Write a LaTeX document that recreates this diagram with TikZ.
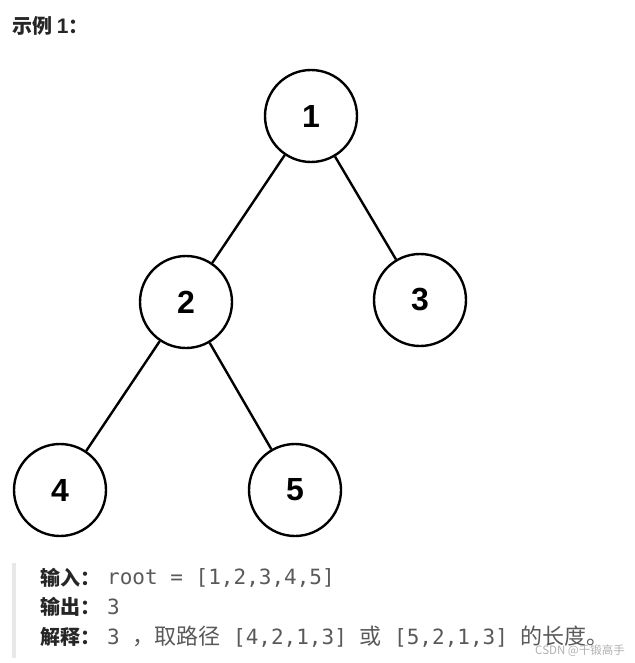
\documentclass[tikz,border=0pt]{standalone}
\usepackage{fontspec}
\setmainfont{Liberation Sans}
\newfontfamily\cjk{Noto Sans CJK SC}
\newfontfamily\mono{DejaVu Sans Mono}
\definecolor{txt}{HTML}{262626}
\definecolor{val}{HTML}{595959}
\definecolor{bar}{HTML}{E8E8E8}
\definecolor{wm}{HTML}{B0B0B0}
\newcommand{\cjkval}[1]{{\cjk\fontsize{22}{24}\selectfont #1}}
\begin{document}
\begin{tikzpicture}[x=1pt,y=-1pt,
  tn/.style={circle,draw=black,line width=2.4pt,minimum size=92pt,inner sep=0pt,
    font=\fontsize{32}{32}\selectfont\bfseries},
  edge/.style={line width=2.4pt},
  lbl/.style={anchor=west,inner sep=0pt,text=txt,font=\cjk\bfseries\fontsize{20}{24}\selectfont},
  valtxt/.style={anchor=west,inner sep=0pt,text=val,font=\mono\fontsize{21}{24}\selectfont}]
\useasboundingbox (0,0) rectangle (634,663);
\node[anchor=west,inner sep=0pt,text=txt,font=\cjk\bfseries\fontsize{20}{24}\selectfont] (title) at (12,26) {示例 {\fontspec{Liberation Sans}\bfseries\fontsize{21}{24}\selectfont 1}：};
\node[tn] (n1) at (311,116) {1};
\node[tn] (n2) at (186,302) {2};
\node[tn] (n3) at (420,300) {3};
\node[tn] (n4) at (60,490) {4};
\node[tn] (n5) at (295,490) {5};
\draw[edge] (n1) -- (n2);
\draw[edge] (n1) -- (n3);
\draw[edge] (n2) -- (n4);
\draw[edge] (n2) -- (n5);
\fill[bar] (12,563) rectangle (16,658);
\node[lbl] (l1) at (40,578) {输入：};
\node[valtxt] (v1) at (107,578) {root = [1,2,3,4,5]};
\node[lbl] (l2) at (40,607) {输出：};
\node[valtxt] (v2) at (107,607) {3};
\node[lbl] (l3) at (40,637) {解释：};
\node[valtxt] (v3) at (107,637) {3 \cjkval{，取路径} [4,2,1,3] \cjkval{或} [5,2,1,3] \cjkval{的长度。}};
\node[anchor=east,inner sep=0pt,text=wm,font=\cjk\fontsize{11.5}{12}\selectfont] (wmk) at (625,651) {CSDN @千锻高手};
\end{tikzpicture}
\end{document}
